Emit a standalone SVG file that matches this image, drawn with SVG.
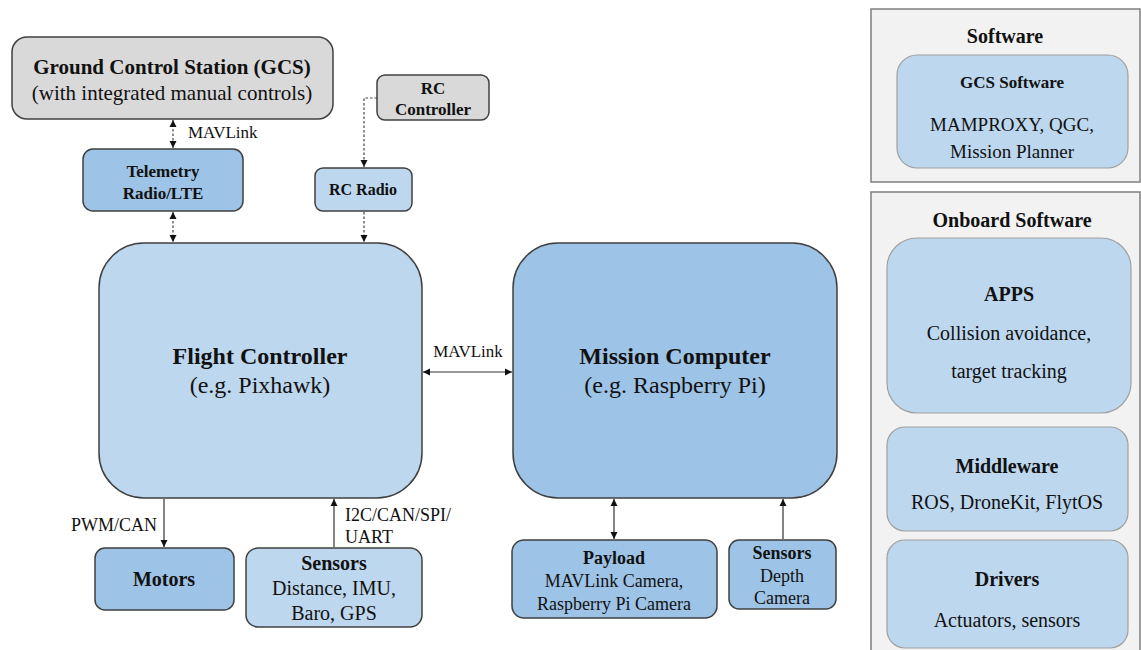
<svg xmlns="http://www.w3.org/2000/svg" width="1141" height="650" viewBox="0 0 1141 650">
<defs>
<style>
text{font-family:"Liberation Serif","Times New Roman",Times,"DejaVu Serif","Noto Serif",serif;fill:#111;text-anchor:middle}
.b{font-weight:bold}
.gray{fill:#d9d9d9;stroke:#404040;stroke-width:1.5}
.lb{fill:#bdd7ee;stroke:#404040;stroke-width:1.5}
.mb{fill:#9dc3e6;stroke:#404040;stroke-width:1.5}
.panel{fill:#f2f2f2;stroke:#7f7f7f;stroke-width:1.5}
.sb{fill:#bdd7ee;stroke:#a0a0a0;stroke-width:1.2}
.ln{stroke:#333;stroke-width:1.2;fill:none}
.dl{stroke:#444;stroke-width:1.2;fill:none;stroke-dasharray:2.5 2}
</style>
<marker id="ah" markerWidth="8" markerHeight="8" refX="7" refY="4" orient="auto-start-reverse" markerUnits="userSpaceOnUse">
<path d="M0,0.5 L7,4 L0,7.5 Z" fill="#111"/>
</marker>
</defs>
<rect width="1141" height="650" fill="#fff"/>

<g id="gcs">
<rect class="gray" x="12" y="37" width="321" height="82" rx="15"/>
<text class="b" x="172" y="74" font-size="21">Ground Control Station (GCS)</text>
<text x="172" y="100" font-size="21">(with integrated manual controls)</text>
</g>

<g id="telemetry">
<rect class="mb" x="83" y="149" width="160" height="62" rx="10"/>
<text class="b" x="163" y="177" font-size="17">Telemetry</text>
<text class="b" x="163" y="199" font-size="17">Radio/LTE</text>
</g>

<g id="rc-controller">
<rect class="gray" x="377" y="75" width="112" height="45" rx="8"/>
<text class="b" x="433" y="94" font-size="17">RC</text>
<text class="b" x="433" y="115" font-size="17">Controller</text>
</g>

<g id="rc-radio">
<rect class="lb" x="315" y="168" width="97" height="43" rx="8"/>
<text class="b" x="363" y="195" font-size="16">RC Radio</text>
</g>

<g id="flight-controller">
<rect class="lb" x="99" y="243" width="323" height="255" rx="45"/>
<text class="b" x="260" y="364" font-size="24">Flight Controller</text>
<text x="260" y="393" font-size="24">(e.g. Pixhawk)</text>
</g>

<g id="mission-computer">
<rect class="mb" x="513" y="243" width="324" height="255" rx="45"/>
<text class="b" x="675" y="364" font-size="24">Mission Computer</text>
<text x="675" y="393" font-size="24">(e.g. Raspberry Pi)</text>
</g>

<g id="motors">
<rect class="mb" x="95" y="548" width="139" height="62" rx="10"/>
<text class="b" x="164" y="586" font-size="20">Motors</text>
</g>

<g id="sensors-fc">
<rect class="lb" x="246" y="548" width="176" height="79" rx="12"/>
<text class="b" x="334" y="570" font-size="20">Sensors</text>
<text x="334" y="595" font-size="20">Distance, IMU,</text>
<text x="334" y="620" font-size="20">Baro, GPS</text>
</g>

<g id="payload">
<rect class="mb" x="512" y="540" width="205" height="78" rx="12"/>
<text class="b" x="614" y="564" font-size="18">Payload</text>
<text x="614" y="587" font-size="18">MAVLink  Camera,</text>
<text x="614" y="610" font-size="18">Raspberry  Pi Camera</text>
</g>

<g id="sensors-mc">
<rect class="mb" x="729" y="540" width="107" height="69" rx="10"/>
<text class="b" x="782" y="559" font-size="18">Sensors</text>
<text x="782" y="582" font-size="18">Depth</text>
<text x="782" y="604" font-size="18">Camera</text>
</g>

<g id="software-panel">
<rect class="panel" x="871" y="9" width="269" height="173"/>
<text class="b" x="1005" y="43" font-size="20">Software</text>
<rect class="sb" x="897" y="55" width="231" height="113" rx="20"/>
<text class="b" x="1012" y="88" font-size="17">GCS Software</text>
<text x="1012" y="131" font-size="19">MAMPROXY, QGC,</text>
<text x="1012" y="158" font-size="19">Mission Planner</text>
</g>

<g id="onboard-panel">
<rect class="panel" x="871" y="192" width="269" height="470"/>
<text class="b" x="1012" y="227" font-size="20">Onboard Software</text>
<rect class="sb" x="887" y="238" width="244" height="175" rx="30"/>
<text class="b" x="1009" y="301" font-size="20">APPS</text>
<text x="1009" y="340" font-size="20">Collision  avoidance,</text>
<text x="1009" y="378" font-size="20">target tracking</text>
<rect class="sb" x="887" y="427" width="241" height="104" rx="18"/>
<text class="b" x="1007" y="473" font-size="20">Middleware</text>
<text x="1007" y="509" font-size="20">ROS, DroneKit,  FlytOS</text>
<rect class="sb" x="887" y="540" width="241" height="108" rx="18"/>
<text class="b" x="1007" y="586" font-size="20">Drivers</text>
<text x="1007" y="627" font-size="20">Actuators,  sensors</text>
</g>

<g id="connectors">
<line class="dl" x1="173" y1="120" x2="173" y2="148" marker-start="url(#ah)" marker-end="url(#ah)"/>
<text x="188" y="138" font-size="17" style="text-anchor:start">MAVLink</text>
<line class="dl" x1="173" y1="212" x2="173" y2="242" marker-start="url(#ah)" marker-end="url(#ah)"/>
<polyline class="dl" points="377,98 364,98 364,167" marker-end="url(#ah)"/>
<line class="dl" x1="364" y1="212" x2="364" y2="242" marker-end="url(#ah)"/>
<line class="ln" x1="423" y1="372" x2="512" y2="372" marker-start="url(#ah)" marker-end="url(#ah)"/>
<text x="468" y="357" font-size="17">MAVLink</text>
<line class="ln" x1="164" y1="499" x2="164" y2="547" marker-end="url(#ah)"/>
<text x="157" y="531" font-size="18" style="text-anchor:end">PWM/CAN</text>
<line class="ln" x1="334" y1="547" x2="334" y2="499" marker-end="url(#ah)"/>
<text x="345" y="521" font-size="18" style="text-anchor:start">I2C/CAN/SPI/</text>
<text x="345" y="543" font-size="18" style="text-anchor:start">UART</text>
<line class="ln" x1="614" y1="499" x2="614" y2="539" marker-start="url(#ah)" marker-end="url(#ah)"/>
<line class="ln" x1="783" y1="539" x2="783" y2="499" marker-end="url(#ah)"/>
</g>
</svg>
